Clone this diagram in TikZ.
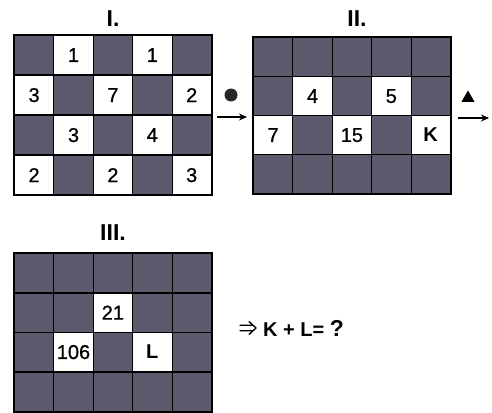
\documentclass[tikz,border=0pt]{standalone}
\usepackage{fontspec}
\setmainfont{Liberation Sans}
\newfontfamily\medsans[FakeBold=0.8]{Liberation Sans}
\usetikzlibrary{arrows.meta,shapes.geometric}
\definecolor{cellgray}{HTML}{5E5A6E}
\newcommand{\numfont}{\medsans\fontsize{20}{20}\selectfont}
\tikzset{
  cell/.style={draw=black, line width=0.8pt, minimum width=39.4pt, minimum height=39.4pt, inner sep=0pt, anchor=north west, font=\numfont},
  dark/.style={cell, fill=cellgray},
  light/.style={cell, fill=white},
  frame/.style={draw=black, line width=2pt},
  title/.style={font=\fontsize{23}{23}\selectfont\bfseries},
  flow/.style={-{Stealth[length=8pt,width=7pt]}, line width=1.1pt},
  implies/.style={line width=1.3pt, line cap=round, line join=round},
}
\begin{document}
\begin{tikzpicture}[x=1pt,y=-1pt]
\useasboundingbox (0,0) rectangle (492,412);
% Grid I
\foreach \r in {1,...,4}{\foreach \c in {1,...,5}{
  \pgfmathsetmacro\iswhite{mod(\r+\c,2)}
  \ifdim\iswhite pt>0.5pt
    \node[light] (a-\r-\c) at ({14+(\c-1)*39.4},{35+(\r-1)*40}) {};
  \else
    \node[dark] (a-\r-\c) at ({14+(\c-1)*39.4},{35+(\r-1)*40}) {};
  \fi
}}
\node[font=\numfont] at (a-1-2.center) {1};
\node[font=\numfont] at (a-1-4.center) {1};
\node[font=\numfont] at (a-2-1.center) {3};
\node[font=\numfont] at (a-2-3.center) {7};
\node[font=\numfont] at (a-2-5.center) {2};
\node[font=\numfont] at (a-3-2.center) {3};
\node[font=\numfont] at (a-3-4.center) {4};
\node[font=\numfont] at (a-4-1.center) {2};
\node[font=\numfont] at (a-4-3.center) {2};
\node[font=\numfont] at (a-4-5.center) {3};
\draw[frame] (a-1-1.north west) rectangle (a-4-5.south east);
\node[title] (t1) at (113,19) {I.};
% Grid II
\foreach \r in {1,...,4}{\foreach \c in {1,...,5}{
  \node[dark] (b-\r-\c) at ({253+(\c-1)*39.4},{37+(\r-1)*39}) {};
}}
\node[light] at (b-2-2.north west) {4};
\node[light] at (b-2-4.north west) {5};
\node[light] at (b-3-1.north west) {7};
\node[light] at (b-3-3.north west) {15};
\node[light, font=\fontsize{20}{20}\selectfont\bfseries] at (b-3-5.north west) {K};
\draw[frame] (b-1-1.north west) rectangle (b-4-5.south east);
\node[title] (t2) at (357,19) {II.};
% Grid III
\foreach \r in {1,...,4}{\foreach \c in {1,...,5}{
  \node[dark] (c-\r-\c) at ({14+(\c-1)*39.4},{253+(\r-1)*39.5}) {};
}}
\node[light] at (c-2-3.north west) {21};
\node[light] at (c-3-2.north west) {106};
\node[light, font=\fontsize{20}{20}\selectfont\bfseries] at (c-3-4.north west) {L};
\draw[frame] (c-1-1.north west) rectangle (c-4-5.south east);
\node[title] (t3) at (113,233) {III.};
% operators
\node[circle, fill=black!85, minimum size=13pt, inner sep=0pt] (dot) at (231,95) {};
\coordinate (s1) at (217,117);
\coordinate (e1) at (247,117);
\draw[flow] (s1) -- (e1);
\node[isosceles triangle, isosceles triangle apex angle=60, shape border rotate=90, fill=black, minimum height=11pt, minimum width=13pt, inner sep=0pt] (tri) at (468,98) {};
\coordinate (s2) at (458,118);
\coordinate (e2) at (489,118);
\draw[flow] (s2) -- (e2);
% implies sign
\coordinate (ia) at (240,325.3);
\coordinate (ib) at (252,325.3);
\coordinate (ic) at (240,330.7);
\coordinate (id) at (252,330.7);
\coordinate (ie) at (249,321.5);
\coordinate (if) at (256,328);
\coordinate (ig) at (249,334.5);
\draw[implies] (ia) -- (ib) (ic) -- (id) (ie) -- (if) -- (ig);
\node[anchor=west, font=\fontsize{20}{20}\selectfont\bfseries, inner sep=0pt] (eq) at (263,328) {K + L= \fontsize{23}{23}\selectfont ?};
\end{tikzpicture}
\end{document}
